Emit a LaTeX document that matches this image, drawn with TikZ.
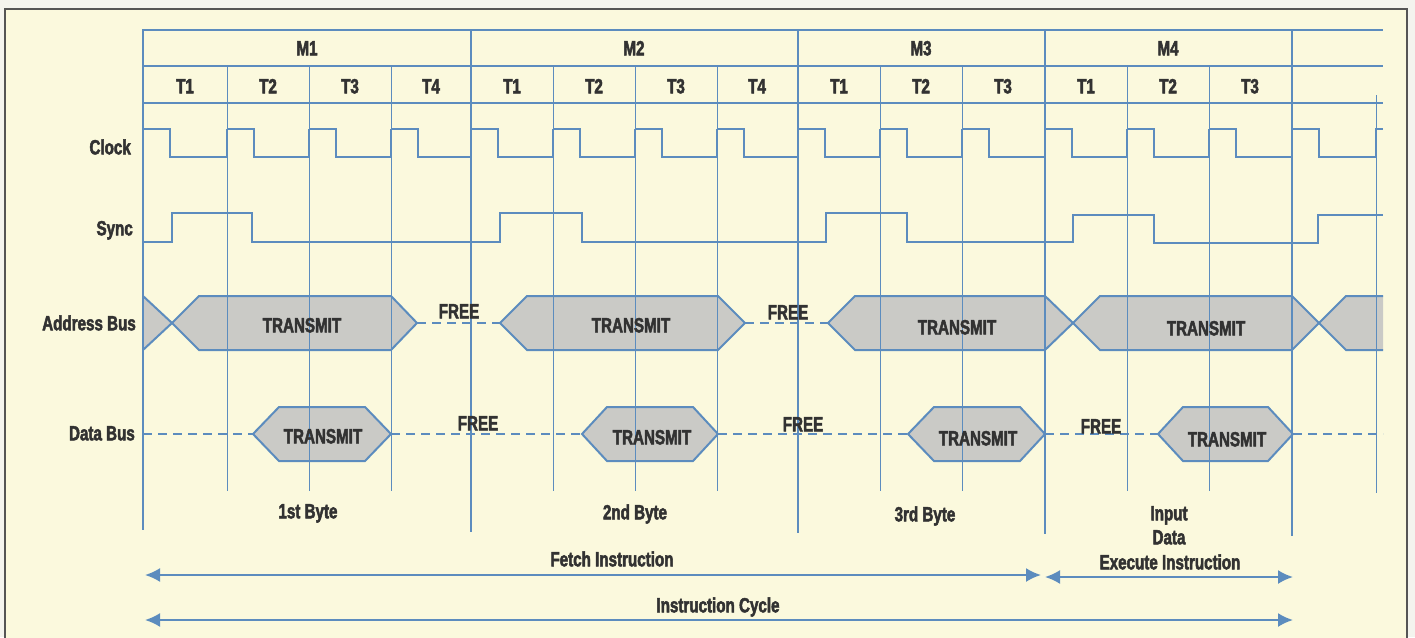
\documentclass[tikz,border=0pt]{standalone}
\usepackage{fontspec}
\setmainfont{Liberation Sans}[FakeStretch=0.74, BoldFeatures={FakeBold=2.4}]
\usetikzlibrary{arrows.meta}
\definecolor{cream}{RGB}{251,249,221}
\definecolor{paper}{RGB}{244,244,238}
\definecolor{framec}{RGB}{85,85,85}
\definecolor{bl}{RGB}{92,140,190}
\definecolor{hexfill}{RGB}{202,202,198}
\definecolor{ink}{RGB}{50,50,50}
\tikzset{
  lbl/.style={font=\bfseries\fontsize{20.5}{22}\selectfont, text=ink, inner sep=0pt, text height=14.6pt, text depth=0pt},
  gridthick/.style={draw=bl, line width=2pt},
  gridthin/.style={draw=bl, line width=0.9pt},
  sig/.style={draw=bl, line width=2pt, line join=miter},
  busfill/.style={fill=hexfill},
  busline/.style={draw=bl, line width=2pt, line join=miter},
  freeline/.style={draw=bl, line width=2pt, dash pattern=on 9pt off 6pt},
  span/.style={draw=bl, line width=2pt, {Latex[length=15pt,width=14pt]}-{Latex[length=15pt,width=14pt]}}
}
\begin{document}
\begin{tikzpicture}[x=1pt,y=-1pt]
\useasboundingbox (0,0) rectangle (1415,637);
\fill[paper] (0,0) rectangle (1415,637);
\filldraw[fill=cream, draw=framec, line width=2pt] (5,9) rectangle (1407,650);

% bus fills
\fill[busfill] (143,296) -- (172,323) -- (143,350) -- cycle;
\fill[busfill] (172,323) -- (199,296) -- (391,296) -- (417,323) -- (391,350) -- (199,350) -- cycle;
\fill[busfill] (500,323) -- (527,296) -- (718,296) -- (745,323) -- (718,350) -- (527,350) -- cycle;
\fill[busfill] (828,323) -- (855,296) -- (1045,296) -- (1073,323) -- (1045,350) -- (855,350) -- cycle;
\fill[busfill] (1073,323) -- (1100,296) -- (1292,296) -- (1319,323) -- (1292,350) -- (1100,350) -- cycle;
\fill[busfill] (1319,323) -- (1346,296) -- (1383,296) -- (1383,350) -- (1346,350) -- cycle;
\fill[busfill] (253,434) -- (279,407) -- (365,407) -- (391,434) -- (365,461) -- (279,461) -- cycle;
\fill[busfill] (582,434) -- (607,407) -- (693,407) -- (718,434) -- (693,461) -- (607,461) -- cycle;
\fill[busfill] (908,434) -- (934,407) -- (1020,407) -- (1045,434) -- (1020,461) -- (934,461) -- cycle;
\fill[busfill] (1158,434) -- (1183,407) -- (1268,407) -- (1293,434) -- (1268,461) -- (1183,461) -- cycle;

% grid
\foreach \y in {30,66,103} \draw[gridthick] (143,\y) -- (1383,\y);
\draw[gridthick] (143,29) -- (143,530);
\draw[gridthick] (471,29) -- (471,532);
\draw[gridthick] (798,29) -- (798,533);
\draw[gridthick] (1045,29) -- (1045,534);
\draw[gridthick] (1292,29) -- (1292,536);
\foreach \x in {227,309,391,553,635,717,880,962,1127,1209}
  \draw[gridthin] (\x,66) -- (\x,491);
\draw[gridthin] (1376,95) -- (1376,493);

% clock
\foreach \s/\n in {143/227,227/309,309/391,391/471,471/553,553/635,635/717,717/798,798/880,880/962,962/1045,1045/1127,1127/1209,1209/1292,1292/1376}
  \draw[sig] (\s,129) -- (\s+27,129) -- (\s+27,157) -- (\n,157) -- (\n,129);
\draw[sig] (1375,129) -- (1383,129);

% sync
\draw[sig] (143,242) -- (172,242) -- (172,213) -- (252,213) -- (252,242) -- (500,242) -- (500,213) -- (582,213) -- (582,242) -- (826,242) -- (826,213) -- (907,213) -- (907,242) -- (1073,242) -- (1073,215) -- (1154,215) -- (1154,243) -- (1318,243) -- (1318,215) -- (1383,215);

% address bus outlines
\draw[busline] (143,296) -- (172,323) -- (143,350);
\draw[busline] (172,323) -- (199,296) -- (391,296) -- (417,323) -- (391,350) -- (199,350) -- cycle;
\draw[busline] (500,323) -- (527,296) -- (718,296) -- (745,323) -- (718,350) -- (527,350) -- cycle;
\draw[busline] (828,323) -- (855,296) -- (1045,296) -- (1073,323) -- (1045,350) -- (855,350) -- cycle;
\draw[busline] (1073,323) -- (1100,296) -- (1292,296) -- (1319,323) -- (1292,350) -- (1100,350) -- cycle;
\draw[busline] (1383,296) -- (1346,296) -- (1319,323) -- (1346,350) -- (1383,350);
\draw[freeline] (417,323) -- (500,323);
\draw[freeline] (745,323) -- (828,323);

% data bus outlines
\draw[busline] (253,434) -- (279,407) -- (365,407) -- (391,434) -- (365,461) -- (279,461) -- cycle;
\draw[busline] (582,434) -- (607,407) -- (693,407) -- (718,434) -- (693,461) -- (607,461) -- cycle;
\draw[busline] (908,434) -- (934,407) -- (1020,407) -- (1045,434) -- (1020,461) -- (934,461) -- cycle;
\draw[busline] (1158,434) -- (1183,407) -- (1268,407) -- (1293,434) -- (1268,461) -- (1183,461) -- cycle;
\draw[freeline] (143,434) -- (253,434);
\draw[freeline] (391,434) -- (582,434);
\draw[freeline] (718,434) -- (908,434);
\draw[freeline] (1045,434) -- (1158,434);
\draw[freeline] (1293,434) -- (1383,434);

% headings
\node[lbl] (m1) at (307,48) {M1};
\node[lbl] (m2) at (634,48) {M2};
\node[lbl] (m3) at (921,48) {M3};
\node[lbl] (m4) at (1168,48) {M4};
\node[lbl] (t11) at (185,86) {T1};
\node[lbl] (t12) at (268,86) {T2};
\node[lbl] (t13) at (350,86) {T3};
\node[lbl] (t14) at (431,86) {T4};
\node[lbl] (t21) at (512,86) {T1};
\node[lbl] (t22) at (594,86) {T2};
\node[lbl] (t23) at (676,86) {T3};
\node[lbl] (t24) at (757,86) {T4};
\node[lbl] (t31) at (839,86) {T1};
\node[lbl] (t32) at (921,86) {T2};
\node[lbl] (t33) at (1003,86) {T3};
\node[lbl] (t41) at (1086,86) {T1};
\node[lbl] (t42) at (1168,86) {T2};
\node[lbl] (t43) at (1250,86) {T3};

% row labels
\node[lbl, anchor=east] (clk) at (131,147) {Clock};
\node[lbl, anchor=east] (syn) at (133,228) {Sync};
\node[lbl, anchor=east] (adr) at (136,323) {Address Bus};
\node[lbl, anchor=east] (dat) at (135,433) {Data Bus};

% bus texts
\node[lbl] (a1) at (302,325) {TRANSMIT};
\node[lbl] (a2) at (631,325) {TRANSMIT};
\node[lbl] (a3) at (957,327) {TRANSMIT};
\node[lbl] (a4) at (1206,328) {TRANSMIT};
\node[lbl] (d1) at (323,436) {TRANSMIT};
\node[lbl] (d2) at (652,437) {TRANSMIT};
\node[lbl] (d3) at (978,438) {TRANSMIT};
\node[lbl] (d4) at (1227,439) {TRANSMIT};
\node[lbl] (fa1) at (459,311) {FREE};
\node[lbl] (fa2) at (788,312) {FREE};
\node[lbl] (fd1) at (478,423) {FREE};
\node[lbl] (fd2) at (803,424) {FREE};
\node[lbl] (fd3) at (1101,426) {FREE};

% bottom labels
\node[lbl] (b1) at (308,511) {1st Byte};
\node[lbl] (b2) at (635,512) {2nd Byte};
\node[lbl] (b3) at (925,514) {3rd Byte};
\node[lbl] (inp) at (1169,513) {Input};
\node[lbl] (idat) at (1169,537) {Data};
\node[lbl] (fetch) at (612,559) {Fetch Instruction};
\node[lbl] (exec) at (1170,562) {Execute Instruction};
\node[lbl] (cyc) at (718,605) {Instruction Cycle};

% spans
\coordinate (fs) at (145,575);
\coordinate (fe) at (1041,575);
\coordinate (es) at (1045,577);
\coordinate (ee) at (1293,577);
\coordinate (cs) at (145,620);
\coordinate (ce) at (1293,620);
\draw[span] (fs) -- (fe);
\draw[span] (es) -- (ee);
\draw[span] (cs) -- (ce);
\end{tikzpicture}
\end{document}
